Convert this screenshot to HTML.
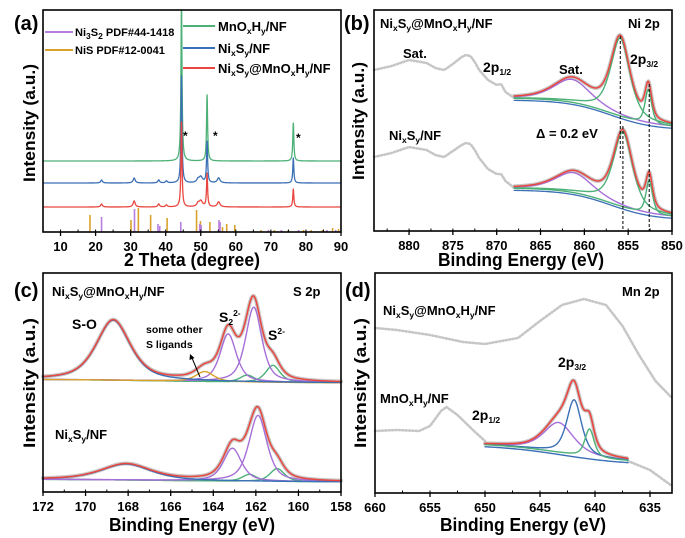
<!DOCTYPE html>
<html><head><meta charset="utf-8">
<style>
html,body{margin:0;padding:0;background:#fff;}
svg{display:block;font-family:"Liberation Sans",Arial,sans-serif;font-weight:bold;}
.sb{font-size:8.5px;}
</style></head>
<body>
<svg id="fig" width="685" height="538" viewBox="0 0 685 538">
<defs>
<clipPath id="clipA"><rect x="43" y="10" width="298" height="222"/></clipPath>
</defs>
<g id="gA"></g>
<g id="gB"></g>
<g id="gC"></g>
<g id="gD"></g>

<text x="14" y="30" font-size="20">(a)</text>
<text x="344" y="30" font-size="20">(b)</text>
<text x="14" y="297" font-size="20">(c)</text>
<text x="345" y="297" font-size="20">(d)</text>

<text x="192" y="266" font-size="18" text-anchor="middle" textLength="136" lengthAdjust="spacingAndGlyphs">2 Theta (degree)</text>
<text x="521" y="266" font-size="18" text-anchor="middle" textLength="166" lengthAdjust="spacingAndGlyphs">Binding Energy (eV)</text>
<text x="192" y="531" font-size="18" text-anchor="middle" textLength="166" lengthAdjust="spacingAndGlyphs">Binding Energy (eV)</text>
<text x="523" y="531" font-size="18" text-anchor="middle" textLength="166" lengthAdjust="spacingAndGlyphs">Binding Energy (eV)</text>
<text transform="translate(35,123) rotate(-90)" font-size="17" text-anchor="middle" textLength="118" lengthAdjust="spacingAndGlyphs">Intensity (a.u.)</text>
<text transform="translate(364,121) rotate(-90)" font-size="17" text-anchor="middle" textLength="118" lengthAdjust="spacingAndGlyphs">Intensity (a.u.)</text>
<text transform="translate(35,383) rotate(-90)" font-size="17" text-anchor="middle" textLength="130" lengthAdjust="spacingAndGlyphs">Intensity (a.u.)</text>
<text transform="translate(366,383) rotate(-90)" font-size="17" text-anchor="middle" textLength="130" lengthAdjust="spacingAndGlyphs">Intensity (a.u.)</text>

<g>
<line x1="45" y1="32" x2="73" y2="32" stroke="#b87fe0" stroke-width="2"/>
<text x="75" y="36" font-size="11">Ni<tspan class="sb" dy="3">3</tspan><tspan dy="-3">S</tspan><tspan class="sb" dy="3">2</tspan><tspan dy="-3"> PDF#44-1418</tspan></text>
<line x1="45" y1="50" x2="73" y2="50" stroke="#d9a22a" stroke-width="2"/>
<text x="75" y="54" font-size="11">NiS PDF#12-0041</text>
<line x1="183" y1="26" x2="215" y2="26" stroke="#4cb077" stroke-width="2"/>
<text x="218" y="31" font-size="13">MnO<tspan class="sb" dy="3">x</tspan><tspan dy="-3">H</tspan><tspan class="sb" dy="3">y</tspan><tspan dy="-3">/NF</tspan></text>
<line x1="183" y1="48" x2="215" y2="48" stroke="#3b6fb6" stroke-width="2"/>
<text x="218" y="53" font-size="13">Ni<tspan class="sb" dy="3">x</tspan><tspan dy="-3">S</tspan><tspan class="sb" dy="3">y</tspan><tspan dy="-3">/NF</tspan></text>
<line x1="183" y1="68" x2="215" y2="68" stroke="#e8463f" stroke-width="2"/>
<text x="218" y="73" font-size="13">Ni<tspan class="sb" dy="3">x</tspan><tspan dy="-3">S</tspan><tspan class="sb" dy="3">y</tspan><tspan dy="-3">@MnO</tspan><tspan class="sb" dy="3">x</tspan><tspan dy="-3">H</tspan><tspan class="sb" dy="3">y</tspan><tspan dy="-3">/NF</tspan></text>
</g>
<text x="183" y="140" font-size="12">*</text>
<text x="213" y="140" font-size="12">*</text>
<text x="296" y="142" font-size="12">*</text>

<text x="380" y="28" font-size="13">Ni<tspan class="sb" dy="3">x</tspan><tspan dy="-3">S</tspan><tspan class="sb" dy="3">y</tspan><tspan dy="-3">@MnO</tspan><tspan class="sb" dy="3">x</tspan><tspan dy="-3">H</tspan><tspan class="sb" dy="3">y</tspan><tspan dy="-3">/NF</tspan></text>
<text x="628" y="28" font-size="13">Ni 2p</text>
<text x="403" y="58" font-size="13">Sat.</text>
<text x="483" y="72" font-size="14">2p<tspan class="sb" dy="3">1/2</tspan></text>
<text x="559" y="74" font-size="13">Sat.</text>
<text x="630" y="64" font-size="14">2p<tspan class="sb" dy="3">3/2</tspan></text>
<text x="389" y="140" font-size="13">Ni<tspan class="sb" dy="3">x</tspan><tspan dy="-3">S</tspan><tspan class="sb" dy="3">y</tspan><tspan dy="-3">/NF</tspan></text>
<text x="536" y="138" font-size="13">Δ = 0.2 eV</text>

<text x="52" y="296" font-size="13">Ni<tspan class="sb" dy="3">x</tspan><tspan dy="-3">S</tspan><tspan class="sb" dy="3">y</tspan><tspan dy="-3">@MnO</tspan><tspan class="sb" dy="3">x</tspan><tspan dy="-3">H</tspan><tspan class="sb" dy="3">y</tspan><tspan dy="-3">/NF</tspan></text>
<text x="293" y="296" font-size="13">S 2p</text>
<text x="72" y="329" font-size="14">S-O</text>
<text x="146" y="333" font-size="10.5">some other</text>
<text x="146" y="348" font-size="10.5">S ligands</text>
<line x1="200" y1="377" x2="192" y2="358" stroke="#000" stroke-width="1"/>
<polygon points="190,354 189.5,360 194.5,358" fill="#000"/>
<text x="219" y="322" font-size="14">S<tspan class="sb" dy="3">2</tspan><tspan class="sb" dy="-9">2-</tspan></text>
<text x="268" y="340" font-size="14">S<tspan class="sb" dy="-6">2-</tspan></text>
<text x="55" y="439" font-size="13">Ni<tspan class="sb" dy="3">x</tspan><tspan dy="-3">S</tspan><tspan class="sb" dy="3">y</tspan><tspan dy="-3">/NF</tspan></text>

<text x="622" y="296" font-size="13">Mn 2p</text>
<text x="383" y="315" font-size="13">Ni<tspan class="sb" dy="3">x</tspan><tspan dy="-3">S</tspan><tspan class="sb" dy="3">y</tspan><tspan dy="-3">@MnO</tspan><tspan class="sb" dy="3">x</tspan><tspan dy="-3">H</tspan><tspan class="sb" dy="3">y</tspan><tspan dy="-3">/NF</tspan></text>
<text x="558" y="367" font-size="14">2p<tspan class="sb" dy="3">3/2</tspan></text>
<text x="380" y="403" font-size="13">MnO<tspan class="sb" dy="3">x</tspan><tspan dy="-3">H</tspan><tspan class="sb" dy="3">y</tspan><tspan dy="-3">/NF</tspan></text>
<text x="472" y="420" font-size="14">2p<tspan class="sb" dy="3">1/2</tspan></text>
</svg>

<script>
const xrdTicks = [10,20,30,40,50,60,70,80,90];
const xrdPeakPos   = [21.7,31.0,38.0,40.2,49.2,50.0,51.8,55.1,44.5,76.4];
const xrdPeakWidth = [0.3,0.35,0.3,0.3,0.4,0.6,0.18,0.45,0.18,0.18];
const greenBase = 71;
const greenAmp  = [0,0,0,0,0,0,66,0,160,38];
const blueBase  = 49;
const blueAmp   = [3,5,3,2,3,6,41,5,107,25];
const redBase   = 25;
const redAmp    = [3,6,3,2,3,6,33,5,85,18];
const ni3s2Pos  = [21.7,31.1,37.8,38.3,44.3,49.7,50.1,55.2,55.5,69.3,73.0,77.9,86.0,88.5];
const ni3s2H    = [15,23,8,6,10,8,7,12,10,2,2,2,2,2];
const nisPos    = [18.4,30.1,32.2,35.7,40.4,48.8,49.9,52.6,56.2,57.4,59.7,67.2,71.0,73.0,75.0,79.3,81.5,84.7,87.6,89.3];
const nisH      = [17,12,24,17,14,22,11,10,5,8,7,2,2,2,2,2,2,2,4,3];

const niTicks = [880,875,870,865,860,855,850];
const niUpRawX = [884,882,880,878,877,876,875,874,873.5,873,872.5,872,871,870,869.5,869,868];
const niUpRawV = [161,165,171,168,163,161,167,174,176,175,169,161,151,146,147,139,133];
const niLoRawX = [884,882,880,878,877,876,875,874,873.5,873,872.5,872,871,870,869.5,869,868];
const niLoRawV = [74,78,84,81,76,74,80,86,88,87,81,73,62,57,57,50,43];
const niUpBg = [103,133,857,2.5];
const niLoBg = [13,43,857,2.5];
const niUpCenters = [861.4,855.9,852.7];
const niUpAmps    = [23,78,34];
const niLoCenters = [861.2,855.6,852.6];
const niLoAmps    = [20,75,33];
const niWidths    = [2.5,1.3,0.45];
const niColors    = ['#a66fd8','#4cb077','#4cb077'];

const sTicks = [172,170,168,166,164,162,160,158];
const sUpBg = [109,113,166,3];
const sLoBg = [10,13,166,3];
const sUpCenters = [168.7,164.4,163.3,162.1,162.4,161.2];
const sUpAmps    = [60,10,48,75,7,17];
const sUpWidths  = [0.95,0.5,0.45,0.45,0.4,0.4];
const sLoCenters = [168.1,164.4,163.1,161.9,162.3,161.0];
const sLoAmps    = [16,0,33,66,7,13];
const sLoWidths  = [1.4,0.5,0.5,0.5,0.4,0.4];
const sColors    = ['#3b6fb6','#d9a22a','#a66fd8','#a66fd8','#4cb077','#4cb077'];

const mnTicks = [660,655,650,645,640,635];
const mnUpRawX = [660,658,655,652,650,648,647,645,643,641,639,637.5,636,634.5,633];
const mnUpRawV = [165,163,158,151,149,153,155,172,188,194,188,167,138,112,95];
const mnLoRawX = [660,658,656,655,654,653.5,652.5,651,650];
const mnLoRawV = [62,63,62,67,82,86,78,62,52];
const mnTailX  = [637,635,633];
const mnTailV  = [32,23,7];
const mnBg = [30,50,643,3];
const mnCenters = [643.3,641.9,640.5];
const mnAmps    = [30,55,28];
const mnWidths  = [1.6,0.8,0.5];
const mnColors  = ['#a66fd8','#3b6fb6','#4cb077'];

const NS = 'http://www.w3.org/2000/svg';
function mk(tag, attrs, parent){
  const e = document.createElementNS(NS, tag);
  for (const k in attrs) e.setAttribute(k, attrs[k]);
  parent.appendChild(e);
  return e;
}
function P(L,R,T,B,x0,x1){
  return {L,R,T,B,x0,x1,
    sx:function(x){return L+(x-x0)/(x1-x0)*(R-L);},
    sy:function(v){return B-v;}};
}
const pA = P(43,341,10,232,5,90);
const pB = P(374,672,10,231,884,850);
const pC = P(43,341,273,492,172,158);
const pD = P(375,672,273,493,660,633);

function pv(x,c,a,w){const t=(x-c)/w;return a*(0.6/(1+t*t)+0.4*Math.exp(-Math.LN2*t*t));}
function bgf(x,b){return b[0]+(b[1]-b[0])/(1+Math.exp(-(x-b[2])/b[3]));}

function curvePath(p,f,xa,xb,n){
  let d='';
  for(let i=0;i<=n;i++){
    const x=xa+(xb-xa)*i/n;
    d+=(i?'L':'M')+p.sx(x).toFixed(2)+','+p.sy(f(x)).toFixed(2);
  }
  return d;
}
function ptsPath(p,xs,vs){
  let d='';
  for(let i=0;i<xs.length;i++) d+=(i?'L':'M')+p.sx(xs[i]).toFixed(2)+','+p.sy(vs[i]).toFixed(2);
  return d;
}

function frame(g,p,ticks,minorStep,name){
  const r = mk('rect',{x:p.L,y:p.T,width:p.R-p.L,height:p.B-p.T,fill:'none',stroke:'#000','stroke-width':1.6},g);
  
  
  const lo=Math.min(p.x0,p.x1), hi=Math.max(p.x0,p.x1);
  for(let x=Math.ceil(lo/minorStep)*minorStep;x<=hi+1e-9;x+=minorStep){
    const t = mk('line',{x1:p.sx(x),x2:p.sx(x),y1:p.B,y2:p.B-2.5,stroke:'#000','stroke-width':1},g);
    
    
  }
  ticks.forEach(function(v){
    const t = mk('line',{x1:p.sx(v),x2:p.sx(v),y1:p.B,y2:p.B+4,stroke:'#000','stroke-width':1.3},g);
    
    
    const tx = mk('text',{x:p.sx(v),y:p.B+19,'font-size':13,'text-anchor':'middle'},g);
    tx.textContent = v;
    
    
  });
}

function line(g,d,color,w,name,extra){
  const e = mk('path',Object.assign({d:d,fill:'none',stroke:color,'stroke-width':w,'stroke-linejoin':'round','stroke-linecap':'round'},extra||{}),g);
  
  
  return e;
}
const GREY='#c6c6c6';
function rawDots(g,p,xs,vs,name){
  line(g,ptsPath(p,xs,vs),GREY,2.6,name,{'stroke-dasharray':'1.2 2.2'});
}

(function(){
  const g=document.getElementById('gA');
  const cg = mk('g',{'clip-path':'url(#clipA)'},g);
  
  
  function trace(base,amps){
    return function(x){let s=base;for(let i=0;i<xrdPeakPos.length;i++){if(amps[i]){const t=(x-xrdPeakPos[i])/xrdPeakWidth[i];s+=amps[i]/(1+t*t);}}return s;};
  }
  line(cg,curvePath(pA,trace(greenBase,greenAmp),5,90,1700),'#4cb077',1.3,'xrd-mnoxhy-trace');
  line(cg,curvePath(pA,trace(blueBase,blueAmp),5,90,1700),'#3b6fb6',1.3,'xrd-nixsy-trace');
  line(cg,curvePath(pA,trace(redBase,redAmp),5,90,1700),'#e8463f',1.3,'xrd-composite-trace');
  nisPos.forEach(function(x,i){
    const e=mk('line',{x1:pA.sx(x),x2:pA.sx(x),y1:pA.B,y2:pA.sy(nisH[i]),stroke:'#d9a22a','stroke-width':1.6},cg);
    
    
  });
  ni3s2Pos.forEach(function(x,i){
    const e=mk('line',{x1:pA.sx(x),x2:pA.sx(x),y1:pA.B,y2:pA.sy(ni3s2H[i]),stroke:'#b87fe0','stroke-width':1.6},cg);
    
    
  });
  frame(g,pA,xrdTicks,5,'axis-a');
})();

(function(){
  const g=document.getElementById('gB');
  function spec(rx,rv,bg,cs,as,tag){
    rawDots(g,pB,rx,rv,'ni2p-raw-'+tag);
    const env=function(x){let s=bgf(x,bg);for(let i=0;i<cs.length;i++)s+=pv(x,cs[i],as[i],niWidths[i]);return s;};
    line(g,curvePath(pB,env,868,850,300),GREY,4,'ni2p-raw-fit-region-'+tag,{'stroke-dasharray':'1.5 1.8'});
    line(g,curvePath(pB,function(x){return bgf(x,bg)-2;},868,850,100),'#3b6fb6',1.3,'ni2p-background-'+tag);
    for(let i=0;i<cs.length;i++){
      const c=cs[i],a=as[i],w=niWidths[i];
      line(g,curvePath(pB,function(x){return bgf(x,bg)+pv(x,c,a,w);},868,850,300),niColors[i],1.4,'ni2p-component-'+tag+'-'+i);
    }
    line(g,curvePath(pB,env,868,850,300),'#e8463f',1.5,'ni2p-envelope-'+tag);
  }
  spec(niUpRawX,niUpRawV,niUpBg,niUpCenters,niUpAmps,'composite');
  spec(niLoRawX,niLoRawV,niLoBg,niLoCenters,niLoAmps,'nixsy');
  const dl=[[niUpCenters[1],36,158],[niLoCenters[1],126,231],[niLoCenters[2],84,231]];
  dl.forEach(function(d){
    const e=mk('line',{x1:pB.sx(d[0]),x2:pB.sx(d[0]),y1:d[1],y2:d[2],stroke:'#000','stroke-width':1,'stroke-dasharray':'3 2'},g);
    
    
  });
  frame(g,pB,niTicks,2.5,'axis-b');
})();

(function(){
  const g=document.getElementById('gC');
  function spec(bg,cs,as,ws,tag){
    const env=function(x){let s=bgf(x,bg);for(let i=0;i<cs.length;i++)s+=pv(x,cs[i],as[i],ws[i]);return s;};
    line(g,curvePath(pC,env,172,158,400),GREY,4,'s2p-raw-'+tag,{'stroke-dasharray':'1.5 1.8'});
    for(let i=cs.length-1;i>=0;i--){
      if(!as[i]) continue;
      const c=cs[i],a=as[i],w=ws[i];
      line(g,curvePath(pC,function(x){return bgf(x,bg)+pv(x,c,a,w);},172,158,400),sColors[i],1.4,'s2p-component-'+tag+'-'+i);
    }
    line(g,curvePath(pC,env,172,158,400),'#e8463f',1.5,'s2p-envelope-'+tag);
  }
  spec(sUpBg,sUpCenters,sUpAmps,sUpWidths,'composite');
  spec(sLoBg,sLoCenters,sLoAmps,sLoWidths,'nixsy');
  frame(g,pC,sTicks,1,'axis-c');
})();

(function(){
  const g=document.getElementById('gD');
  rawDots(g,pD,mnUpRawX,mnUpRawV,'mn2p-raw-composite');
  rawDots(g,pD,mnLoRawX,mnLoRawV,'mn2p-raw-mnoxhy');
  rawDots(g,pD,mnTailX,mnTailV,'mn2p-raw-mnoxhy-tail');
  const env=function(x){let s=bgf(x,mnBg);for(let i=0;i<mnCenters.length;i++)s+=pv(x,mnCenters[i],mnAmps[i],mnWidths[i]);return s;};
  line(g,curvePath(pD,env,650,637,250),GREY,4,'mn2p-raw-fit-region',{'stroke-dasharray':'1.5 1.8'});
  for(let i=0;i<mnCenters.length;i++){
    const c=mnCenters[i],a=mnAmps[i],w=mnWidths[i];
    line(g,curvePath(pD,function(x){return bgf(x,mnBg)+pv(x,c,a,w);},650,637,250),mnColors[i],1.4,'mn2p-component-'+i);
  }
  line(g,curvePath(pD,function(x){return bgf(x,mnBg)-2;},650,637,100),'#3b6fb6',1.4,'mn2p-background');
  line(g,curvePath(pD,env,650,637,250),'#e8463f',1.6,'mn2p-envelope');
  frame(g,pD,mnTicks,2.5,'axis-d');
})();
</script>
</body></html>
